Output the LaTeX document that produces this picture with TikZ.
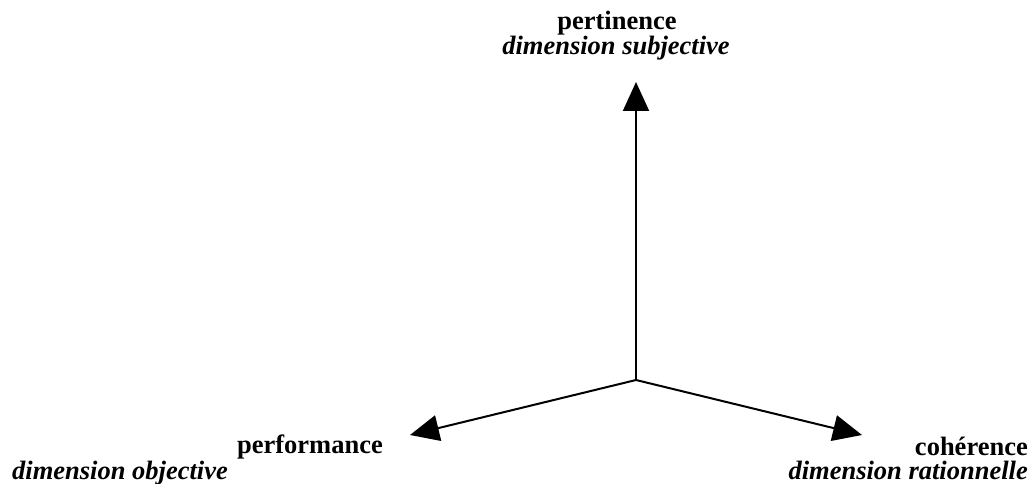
\documentclass[tikz,border=0pt]{standalone}
\usepackage{fontspec}
\setmainfont{Liberation Serif}
\usetikzlibrary{arrows.meta}
\begin{document}
\begin{tikzpicture}[x=1pt,y=-1pt,
  axis/.style={line width=2pt,-{Triangle[length=29pt,width=26pt]}},
  lbl/.style={inner sep=0pt,font=\fontsize{26.5}{30}\selectfont\bfseries},
  sub/.style={lbl,font=\fontsize{26.5}{30}\selectfont\bfseries\itshape}]
\useasboundingbox (0,0) rectangle (1035,484);
% axes meeting at a common origin
\coordinate (O) at (636,380);
\coordinate (up) at (636,82);
\coordinate (lt) at (410,435);
\coordinate (rt) at (862,435);
\draw[axis] (O) -- (up);
\draw[axis] (O) -- (lt);
\draw[axis] (O) -- (rt);
% axis labels
\node[lbl,anchor=base] (pert) at (617,30) {pertinence};
\node[sub,anchor=base] (pertsub) at (616,55) {dimension subjective};
\node[lbl,anchor=base east] (perf) at (383,453) {performance};
\node[sub,anchor=base west] (perfsub) at (12,479) {dimension objective};
\node[lbl,anchor=base east] (coh) at (1028,455) {cohérence};
\node[sub,anchor=base east] (cohsub) at (1028,479) {dimension rationnelle};
\end{tikzpicture}
\end{document}
